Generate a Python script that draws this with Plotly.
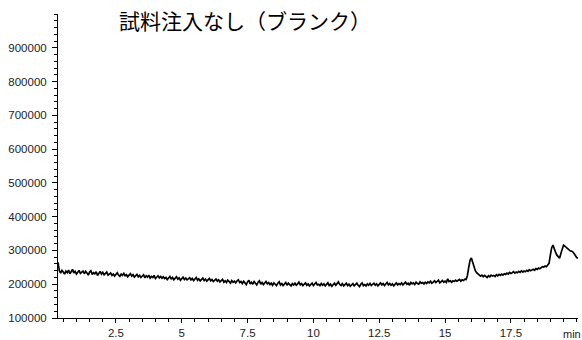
import plotly.graph_objects as go

# time grid (min), sampled every 0.05 min starting at 0.3
t_start = 0.3
t_step = 0.05
# detector signal in thousands of counts
signal_k = [
    265, 240, 233, 241, 236, 230, 239, 234, 242, 231, 237, 244, 233, 238, 230, 236, 241, 232, 235, 239,
    231, 238, 233, 227, 236, 240, 229, 234, 231, 237, 226, 233, 238, 230, 235, 228, 232, 236, 227, 231,
    233, 226, 230, 224, 229, 234, 227, 223, 230, 226, 232, 225, 228, 222, 227, 231, 224, 228, 221, 226,
    229, 222, 226, 220, 224, 228, 219, 225, 221, 227, 218, 223, 220, 226, 217, 222, 225, 219, 223, 218,
    222, 217, 220, 214, 219, 223, 216, 220, 213, 218, 222, 215, 219, 212, 217, 221, 214, 218, 213, 216,
    219, 213, 217, 211, 215, 220, 212, 216, 210, 214, 218, 211, 215, 209, 213, 217, 210, 214, 208, 212,
    215, 209, 213, 207, 211, 214, 206, 210, 205, 212, 208, 203, 211, 206, 209, 204, 210, 213, 205, 208,
    202, 209, 204, 199, 207, 212, 201, 206, 200, 208, 203, 198, 206, 210, 200, 205, 199, 204, 208, 201,
    205, 199, 203, 197, 204, 200, 196, 203, 207, 198, 202, 196, 201, 205, 197, 203, 199, 195, 202, 198,
    203, 197, 201, 206, 198, 202, 196, 200, 204, 197, 201, 195, 199, 203, 196, 201, 205, 198, 200, 196,
    202, 197, 201, 195, 199, 204, 196, 200, 194, 198, 203, 197, 201, 207, 199, 196, 202, 195, 199, 203,
    196, 200, 194, 198, 202, 195, 199, 203, 197, 193, 200, 204, 196, 199, 195, 201, 197, 202, 196, 199,
    203, 197, 201, 195, 199, 204, 198, 202, 196, 200, 205, 198, 202, 197, 201, 195, 200, 204, 198, 202,
    199, 204, 198, 202, 206, 200, 203, 197, 205, 201, 204, 199, 206, 202, 200, 207, 203, 205, 201, 206,
    202, 207, 204, 209, 203, 206, 210, 205, 208, 212, 204, 207, 211, 206, 209, 205, 216, 208, 210, 206,
    210, 208, 212, 209, 211, 214, 209, 213, 211, 215, 214, 226, 250, 271, 278, 266, 250, 240, 234, 230,
    229, 224, 227, 222, 226, 223, 220, 225, 222, 227, 224, 226, 223, 228, 225, 229, 226, 230, 227, 231,
    229, 233, 230, 235, 232, 234, 237, 233, 236, 234, 238, 235, 240, 236, 239, 237, 241, 238, 243, 240,
    242, 244, 241, 246, 244, 248, 246, 250, 252, 251, 254, 252, 256, 262, 286, 308, 316, 302, 294, 286,
    280, 277, 291, 306, 316, 313, 309, 306, 302, 299, 298, 296, 291, 284, 279, 277,
]
time = [round(t_start + t_step * i, 2) for i in range(len(signal_k))]
signal = [v * 1000 for v in signal_k]

x_ticks = [2.5, 5, 7.5, 10, 12.5, 15, 17.5]
y_ticks = [100000, 200000, 300000, 400000, 500000, 600000, 700000, 800000, 900000]

W, H = 582, 340
ML, MR, MT, MB = 58, 4, 14, 22

fig = go.Figure()
fig.add_trace(go.Scatter(x=time, y=signal, mode="lines",
                         line=dict(color="black", width=1.7), hoverinfo="skip"))

tick_font = dict(family="Liberation Sans, Arial, sans-serif", size=11.5, color="#222")
fig.update_layout(
    width=W, height=H,
    margin=dict(l=ML, r=MR, t=MT, b=MB, autoexpand=False),
    paper_bgcolor="white", plot_bgcolor="white",
    showlegend=False,
    xaxis=dict(range=[0.3, 20.05], tickmode="array", tickvals=x_ticks,
               showgrid=False, zeroline=False, showline=True, linecolor="black", linewidth=1,
               ticks="outside", ticklen=4, tickcolor="black", tickfont=tick_font,
               minor=dict(dtick=0.5, ticks="outside", ticklen=3, tickcolor="black", showgrid=False)),
    yaxis=dict(range=[100000, 1000000], tickmode="array", tickvals=y_ticks, tickformat="d",
               showgrid=False, zeroline=False, showline=True, linecolor="black", linewidth=1,
               ticks="outside", ticklen=5, tickcolor="black", tickfont=tick_font,
               ticklabelstandoff=3,
               minor=dict(dtick=20000, tick0=0, ticks="outside", ticklen=3, tickcolor="black", showgrid=False)),
)
plot_w = W - ML - MR
plot_h = H - MT - MB
fig.add_annotation(text="試料注入なし（ブランク）", xref="paper", yref="paper",
                   x=(245 - ML) / plot_w, y=(H - MB - 20) / plot_h,
                   xanchor="center", yanchor="middle", showarrow=False,
                   font=dict(family="Noto Sans CJK JP", size=21, color="black"))
fig.add_annotation(text="min", xref="paper", yref="paper",
                   x=(572 - ML) / plot_w, y=-(334 - (H - MB)) / plot_h,
                   xanchor="center", yanchor="middle", showarrow=False,
                   font=dict(family="Liberation Sans, Arial, sans-serif", size=11, color="#222"))

fig.write_html("out.html", config={"displayModeBar": False},
               post_script="document.body.style.margin='0';")
